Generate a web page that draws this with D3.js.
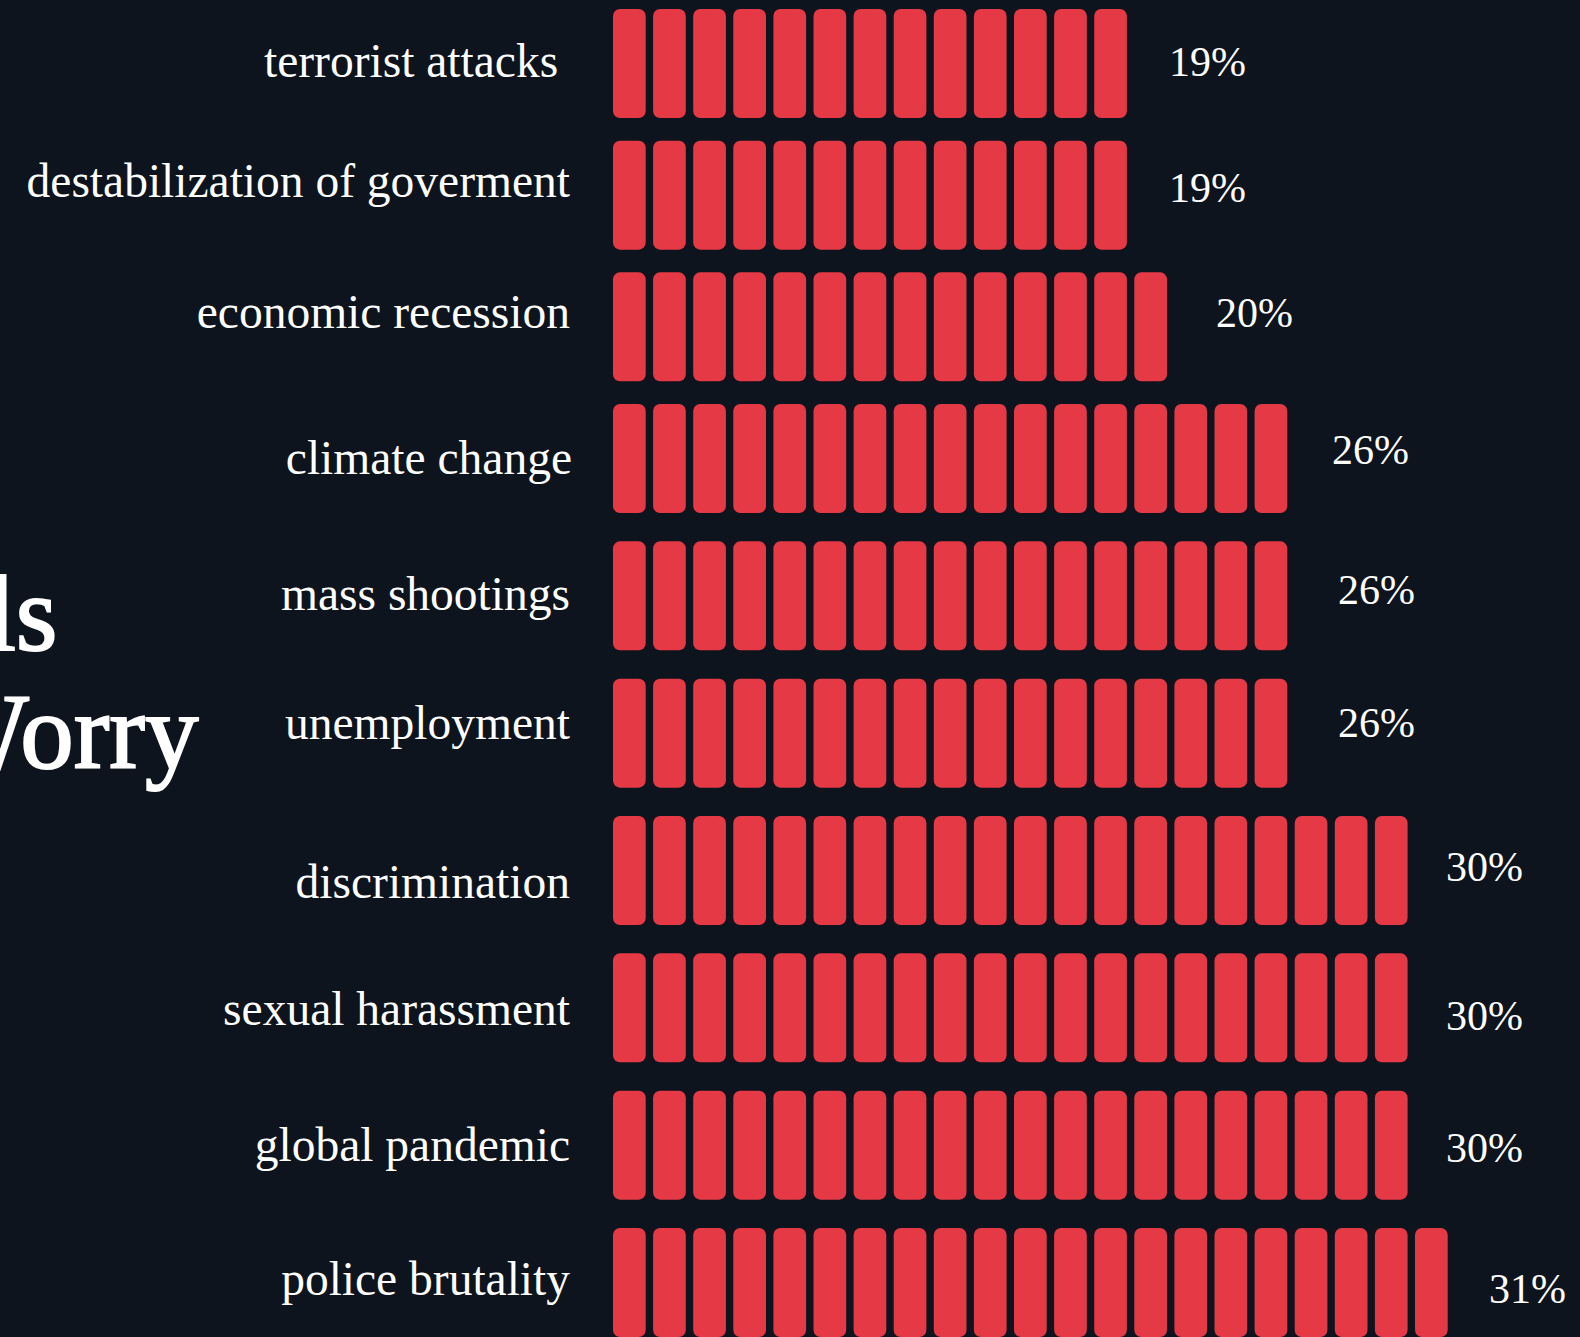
<!DOCTYPE html>
<html>
<head>
<meta charset="utf-8">
<script src="https://cdn.jsdelivr.net/npm/d3@7/dist/d3.min.js"></script>
<style>
  html, body { margin: 0; padding: 0; background: #0d141d; overflow: hidden; }
  svg { display: block; }
  text { white-space: pre; }
</style>
</head>
<body>
<svg id="chart" width="1580" height="1337"></svg>
<script>
// ---- data ----
const categories = [
  "terrorist attacks ",
  "destabilization of goverment",
  "economic recession",
  "climate change",
  "mass shootings",
  "unemployment",
  "discrimination",
  "sexual harassment",
  "global pandemic",
  "police brutality"
];
const values = [19, 19, 20, 26, 26, 26, 30, 30, 30, 31];
const blocks = [13, 13, 14, 17, 17, 17, 20, 20, 20, 21];
const valueLabels = values.map(v => v + "%");
const titleLines = ["Millennials", "Worry"];

// ---- layout (hand-placed nudges from the original) ----
const labelDy = [13.5, 2.3, 1.2, 15.5, 14.2, 5.8, 27.5, 17.2, 15.8, 12.5];
const labelDx = [0, 0, 0, 2, 0, 0, 0, 0, 0, 0];
const valueDx = [42, 42, 49, 44.7, 50.7, 50.7, 38.4, 38.4, 38.4, 41.3];
const valueDy = [12.5, 6.8, 0.2, 5.5, 8.2, 3.8, 10.5, 22.2, 16.8, 20.5];

const W = 1580, H = 1337;
const barH = 109;
const svg = d3.select("#chart");
svg.append("rect").attr("width", W).attr("height", H).attr("fill", "#0d141d");

const maxBlocks = d3.max(blocks);
const step = 40.1, bw = 32.7;
const x = d3.scaleBand()
  .domain(d3.range(maxBlocks))
  .range([613, 613 + step * (maxBlocks - 1) + bw])
  .paddingInner((step - bw) / step)
  .paddingOuter(0);

const y = d3.scaleLinear().domain([0, 3, 9]).range([9, 404, 1228]);

const rows = categories.map((c, i) => ({ c, i, v: values[i], n: blocks[i], label: valueLabels[i] }));

const g = svg.append("g");
const row = g.selectAll("g.row").data(rows).join("g").attr("class", "row");

row.selectAll("rect")
  .data(d => d3.range(d.n).map(k => ({ k, i: d.i })))
  .join("rect")
  .attr("x", d => x(d.k))
  .attr("y", d => y(d.i))
  .attr("width", x.bandwidth())
  .attr("height", barH)
  .attr("rx", 7).attr("ry", 7)
  .attr("fill", "#e63946");

row.append("text")
  .attr("x", d => 570 + labelDx[d.i])
  .attr("y", d => y(d.i) + barH / 2 + labelDy[d.i])
  .attr("text-anchor", "end")
  .attr("font-family", "'Liberation Serif', serif")
  .attr("font-size", 47.5)
  .attr("fill", "#ffffff")
  .text(d => d.c);

row.append("text")
  .attr("x", d => x(d.n - 1) + x.bandwidth() + valueDx[d.i])
  .attr("y", d => y(d.i) + barH / 2 + valueDy[d.i])
  .attr("text-anchor", "start")
  .attr("font-family", "'Liberation Serif', serif")
  .attr("font-size", 42)
  .attr("fill", "#ffffff")
  .text(d => d.label);

// title (partly off-canvas on the left, as in the original)
const titleEnds = [57.5, 198.5];
const titleBase = [650, 768];
svg.append("g").selectAll("text").data(titleLines).join("text")
  .attr("x", (d, i) => titleEnds[i])
  .attr("y", (d, i) => titleBase[i])
  .attr("text-anchor", "end")
  .attr("font-family", "'Liberation Serif', serif")
  .attr("font-size", 107)
  .attr("fill", "#ffffff")
  .attr("stroke", "#ffffff")
  .attr("stroke-width", 2)
  .text(d => d);
</script>
</body>
</html>
